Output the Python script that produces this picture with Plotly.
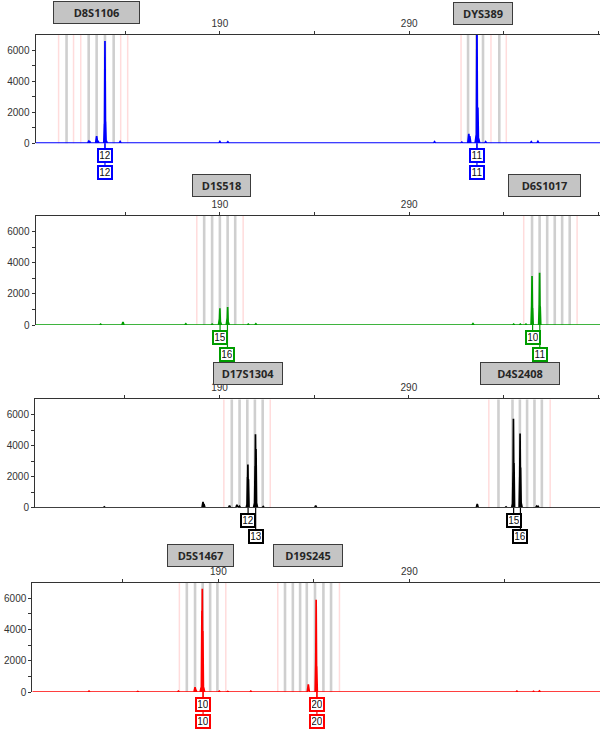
import plotly.graph_objects as go

W, H = 600, 744

# ---------------- data ----------------
x_tick_vals = [140, 190, 240, 290, 340, 390]
x_tick_text = ["", "190", "", "290", "", "390"]
y_tick_vals = [0, 1000, 2000, 3000, 4000, 5000, 6000]
y_tick_text = ["0", "", "2000", "", "4000", "", "6000"]

dye_colors = ["#0000ff", "#009c00", "#000000", "#ff0000"]

# peaks: size (bp) and height (RFU)
blue_bp = [120.7, 121.3, 124.9, 125.6, 129.0, 129.3, 129.6, 130.0, 137.3, 190.0, 194.2,
           303.4, 317.8, 321.5, 322.0, 325.4, 325.8, 326.3, 326.7, 330.4, 354.5, 358.0]
blue_rfu = [110, 90, 450, 150, 1250, 6600, 1400, 150, 100, 100, 80,
            90, 60, 600, 450, 500, 8000, 2300, 300, 90, 90, 110]

green_bp = [127.0, 138.8, 172.0, 185.9, 189.8, 190.0, 190.3, 193.9, 194.1, 194.4, 205.0, 209.0,
            323.7, 345.2, 348.7, 351.7, 354.7, 354.9, 355.2, 358.7, 358.9, 359.2]
green_rfu = [60, 200, 80, 60, 400, 1070, 200, 450, 1150, 200, 60, 80,
             90, 60, 60, 60, 1200, 3150, 1100, 1300, 3350, 1200]

black_bp = [129.2, 181.3, 181.8, 195.3, 199.2, 200.6, 204.6, 204.8, 205.0, 205.3, 208.5, 208.8,
            209.0, 209.3, 209.6, 213.1, 240.8, 326.1, 341.3, 344.8, 345.0, 345.2, 345.5,
            348.5, 348.7, 349.0, 349.3, 357.4, 358.2]
black_rfu = [60, 380, 250, 150, 200, 100, 250, 2000, 2800, 1850, 300, 2700,
             4750, 3800, 300, 80, 150, 250, 60, 300, 2300, 5750, 2900,
             2000, 4800, 2600, 300, 100, 100]

red_bp = [122.3, 147.8, 169.1, 177.8, 178.2, 181.0, 181.4, 181.6, 181.9, 182.3, 190.5, 194.9,
          207.0, 237.1, 241.0, 241.2, 241.5, 346.3, 355.0, 358.1]
red_rfu = [60, 40, 60, 320, 150, 300, 5200, 6600, 3900, 300, 60, 40,
           60, 500, 2000, 5900, 1650, 60, 50, 70]

# bins (bp)
bins_gray = [
    [109.0, 120.7, 124.9, 129.3, 133.9, 321.1, 325.5, 329.0, 337.6],
    [181.7, 185.9, 190.0, 194.1, 198.1, 354.9, 358.9, 362.9, 366.9, 370.8, 374.8],
    [196.5, 200.6, 204.7, 208.7, 212.8, 337.3, 344.7, 348.6, 352.4, 356.3, 360.2],
    [173.5, 177.8, 181.8, 185.7, 189.5, 224.9, 229.0, 232.8, 236.3, 240.6, 245.0, 249.0],
]
bins_pink = [
    [104.8, 112.7, 116.5, 137.6, 141.3, 317.4, 333.2, 341.3],
    [177.8, 202.3, 350.5, 378.7],
    [192.3, 216.8, 332.2, 364.6],
    [169.6, 193.9, 221.1, 253.4],
]

# allele calls: size (bp), label, row
allele_bp = [[129.3, 129.3, 325.8, 325.8],
             [190.1, 194.0, 355.2, 359.0],
             [205.1, 209.1, 345.3, 348.9],
             [182.0, 182.0, 241.6, 241.6]]
allele_label = [["12", "12", "11", "11"],
                ["15", "16", "10", "11"],
                ["12", "13", "15", "16"],
                ["10", "10", "20", "20"]]
allele_row = [[1, 2, 1, 2],
              [1, 2, 1, 2],
              [1, 2, 1, 2],
              [1, 2, 1, 2]]

# locus markers
marker_names = [["D8S1106", "DYS389"], ["D1S518", "D6S1017"],
                ["D17S1304", "D4S2408"], ["D5S1467", "D19S245"]]
marker_bp = [[124.9, 329.1], [190.6, 361.7], [205.0, 348.5], [180.4, 237.1]]

peaks_bp = [blue_bp, green_bp, black_bp, red_bp]
peaks_rfu = [blue_rfu, green_rfu, black_rfu, red_rfu]

# ---------------- layout geometry (px) ----------------
panel_left = [35.5, 35.5, 35.0, 32.3]
panel_top = [35.0, 217.7, 402.7, 587.3]
panel_bot = [144.3, 327.7, 512.0, 697.7]
x_ranges = [[92.6, 390.8], [92.6, 390.8], [92.6, 390.9], [92.6, 389.8]]
marker_yc = [[12.7, 13.3], [187.2, 187.5], [376.3, 376.7], [560.0, 560.0]]
marker_w = [[87, 60], [59, 73], [70, 80], [67, 70]]
marker_h = 23
row_offset = {1: 12.5, 2: 29.0}

fig = go.Figure()
shapes = []
annotations = []
tick_font = dict(family="Liberation Sans, Arial", size=10, color="#333333")

for i in range(4):
    sfx = "" if i == 0 else str(i + 1)
    xa, ya = "x" + sfx, "y" + sfx
    col = dye_colors[i]
    # trace built from the peak list
    pts = sorted(zip(peaks_bp[i], peaks_rfu[i]))
    xs, ys = [x_ranges[i][0]], [0]
    for bp, h in pts:
        hw = 0.3 if h > 1000 else 0.55
        xs += [bp - hw, bp, bp + hw]
        ys += [0, h, 0]
    xs.append(x_ranges[i][1])
    ys.append(0)
    fig.add_trace(go.Scatter(x=xs, y=ys, mode="lines", xaxis=xa, yaxis=ya,
                             line=dict(color=col, width=1.7), showlegend=False,
                             hoverinfo="skip"))
    # bins
    for b in bins_gray[i]:
        shapes.append(dict(type="line", xref=xa, yref=ya + " domain", x0=b, x1=b, y0=0, y1=1,
                           line=dict(color="#cfcfcf", width=2.6), layer="below"))
    for b in bins_pink[i]:
        shapes.append(dict(type="line", xref=xa, yref=ya + " domain", x0=b, x1=b, y0=0, y1=1,
                           line=dict(color="#ffdcdc", width=1.5), layer="below"))
    # axes
    xdom = [panel_left[i] / W, 1.0]
    ydom = [1 - panel_bot[i] / H, 1 - panel_top[i] / H]
    fig.layout["xaxis" + sfx] = dict(
        domain=xdom, range=x_ranges[i], anchor=ya, side="top",
        showline=True, linecolor="#333333", linewidth=1, mirror=False,
        ticks="outside", ticklen=3, tickwidth=1, tickcolor="#333333",
        tickvals=x_tick_vals, ticktext=x_tick_text, tickfont=tick_font,
        showgrid=False, zeroline=False, fixedrange=True)
    fig.layout["yaxis" + sfx] = dict(
        domain=ydom, range=[0, 7000], anchor=xa,
        showline=True, linecolor="#333333", linewidth=1,
        ticks="outside", ticklen=3, tickwidth=1, tickcolor="#333333",
        tickvals=y_tick_vals, ticktext=y_tick_text, tickfont=tick_font,
        showgrid=False, zeroline=False, fixedrange=True)
    # alleles: draw row 2 first so row-1 boxes sit on top of connectors
    order = sorted(range(len(allele_bp[i])), key=lambda k: -allele_row[i][k])
    for k in order:
        annotations.append(dict(
            x=allele_bp[i][k], y=0, xref=xa, yref=ya, text=allele_label[i][k],
            showarrow=True, arrowhead=0, arrowwidth=1.2, arrowcolor=col,
            ax=0, ay=row_offset[allele_row[i][k]], axref="pixel", ayref="pixel",
            standoff=0, startstandoff=0,
            bgcolor="white", bordercolor=col, borderwidth=2, borderpad=1,
            width=10, height=9,
            font=dict(family="Liberation Sans, Arial", size=10, color="#111111")))
    # markers
    for m in range(2):
        annotations.append(dict(
            x=marker_bp[i][m], y=1 - marker_yc[i][m] / H, xref=xa, yref="paper",
            text="<b>" + marker_names[i][m] + "</b>", showarrow=False,
            xanchor="center", yanchor="middle",
            bgcolor="#c4c4c4", bordercolor="#3c3c3c", borderwidth=1, borderpad=0,
            width=marker_w[i][m] - 2, height=marker_h - 2,
            font=dict(family="Open Sans, Noto Sans", size=11, color="#262626")))

fig.update_layout(width=W, height=H, margin=dict(l=0, r=0, t=0, b=0),
                  paper_bgcolor="white", plot_bgcolor="white",
                  shapes=shapes, annotations=annotations, showlegend=False)
fig.write_html("out.html", config={"displayModeBar": False},
               post_script="document.documentElement.style.overflow='hidden';"
                           "document.body.style.overflow='hidden';"
                           "document.body.style.margin='0';document.body.style.padding='0';")
